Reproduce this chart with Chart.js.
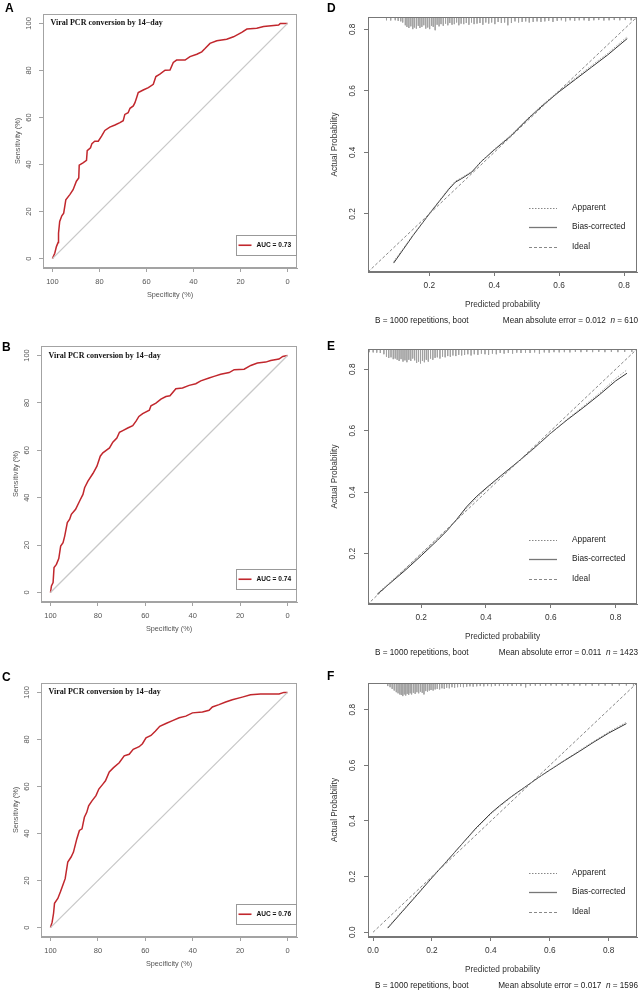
<!DOCTYPE html>
<html>
<head>
<meta charset="utf-8">
<script src="https://cdn.jsdelivr.net/npm/chart.js@4.4.1/dist/chart.umd.min.js"></script>
<style>
html, body { margin: 0; padding: 0; background: #fff; }
#fig { position: relative; width: 641px; height: 991px; overflow: hidden; background: #fff; }
#fig canvas { position: absolute; }
.lab { position: absolute; font: bold 12px "Liberation Sans", Arial, sans-serif; line-height: 12px; color: #000; }
</style>
</head>
<body>
<div id="fig">
  <canvas id="cA" width="320" height="330" style="left:0;top:0"></canvas>
  <canvas id="cB" width="320" height="330" style="left:0;top:330px"></canvas>
  <canvas id="cC" width="320" height="331" style="left:0;top:660px"></canvas>
  <canvas id="cD" width="321" height="330" style="left:320px;top:0"></canvas>
  <canvas id="cE" width="321" height="330" style="left:320px;top:330px"></canvas>
  <canvas id="cF" width="321" height="331" style="left:320px;top:660px"></canvas>
  <div class="lab" style="left:5px;top:2px">A</div>
  <div class="lab" style="left:2px;top:341px">B</div>
  <div class="lab" style="left:2px;top:671px">C</div>
  <div class="lab" style="left:327px;top:2px">D</div>
  <div class="lab" style="left:327px;top:340px">E</div>
  <div class="lab" style="left:327px;top:670px">F</div>
</div>
<script>
'use strict';

const SANS = '"Liberation Sans", Arial, sans-serif';
const SERIF = '"Liberation Serif", "Times New Roman", serif';

// ROC curves: specificity (%) vs sensitivity (%)
const rocTicks = [100, 80, 60, 40, 20, 0];
const rocTitle = 'Viral PCR conversion by 14\u2212day';

const rocASpec = [100,99,98.3,97.6,97.4,96.9,96,95.2,94.3,92.6,91.2,89.8,88.8,88.6,87,85.5,85.2,83.8,83.2,82,80.5,79.1,77.7,75.6,73.4,71.3,69.9,69.2,67.8,67,65.6,64.9,64.2,63.5,61.4,59.2,57.1,56,54.3,52.1,50,48.6,47.2,43.6,41.5,38.6,36.5,35.1,33,30.1,25.9,23,19.5,17.3,13.1,10.2,3.8,3.1,0];
const rocASens = [0,2.3,5.1,6.8,10.8,15.8,18.2,19.3,25,27.2,29.3,32.9,34.3,39.7,40.7,41.8,45.9,47.1,48.9,49.9,49.9,52.1,54.5,55.9,56.8,57.8,58.6,61.3,62,63.9,64.9,66.3,68.4,70.6,71.7,72.7,74.1,77.4,78.4,80.1,80.2,83.4,84.4,84.4,85.9,86.9,87.9,89.3,91.5,92.6,93.3,94.3,96.2,97.6,97.9,98.7,99.3,100,100];

const rocBSpec = [100,99.6,98.9,98.5,97.5,96.5,95.7,94.7,94,92.9,91.9,91.2,89.4,87.7,86.3,85.6,84.2,82.1,80.4,79,77.9,76.5,75.1,73.7,72,70.9,69.5,67.4,65.3,63.9,62.7,61.1,58.3,57.6,55.5,53.4,51.3,49.6,47.1,44.3,41.5,38.7,36.6,33.1,31,28.2,24.6,22.5,18.3,15.5,12.7,9.2,7.1,3.6,2,0];
const rocBSens = [0,2.8,4.2,10.5,11.9,14.3,19.6,21,23.8,29.5,30.9,33,35.1,38.6,41.4,44.2,47,50.2,53.3,57.5,58.9,60,61,63.4,65.2,67.6,68.3,69.4,70.4,72.3,74.3,75.5,76.9,78.8,79.9,81.6,82.7,83,86,86.3,87.4,88.1,89.3,90.5,91.2,92.1,92.8,94,94.2,95.8,96.8,97.2,97.9,98.5,99.6,100];

const rocCSpec = [100,99.3,98.7,98.3,96.9,95.8,94.8,93.8,92.7,91.3,90.3,88.9,87.8,86.7,85.7,84.7,83.9,82.5,80.8,79.6,77.9,76.8,75.2,73.4,71,68.9,66.8,65.1,62.6,61.2,59.7,57.6,55.8,53.9,51.3,48.5,45.7,42.9,40.1,35.9,33.1,31.7,28.9,26.1,23.3,19.1,15.6,11.4,3.6,1.5,0];
const rocCSens = [0,2.3,6.1,10.3,12.4,15.2,18,20.8,27.9,30,32.1,37.7,41.3,42,46.9,49,51.8,53.9,56.1,58.9,61,62.4,66.2,68,70.1,73,73.7,75.8,76.9,78.2,80.7,81.7,83.5,85.6,86.8,88,89.2,89.9,91.3,91.7,92.4,93.8,94.8,95.9,96.9,98,99,99.3,99.3,100,100];

const aucLabels = ['AUC = 0.73', 'AUC = 0.74', 'AUC = 0.76'];

// Calibration curves: predicted vs actual probability
const calTicksDE = [0.2, 0.4, 0.6, 0.8];
const calTicksF = [0.0, 0.2, 0.4, 0.6, 0.8];
const idealLine = [0, 1];

const calDPred = [0.09,0.12,0.15,0.18,0.20,0.23,0.26,0.28,0.30,0.33,0.36,0.40,0.45,0.50,0.55,0.60,0.65,0.70,0.75,0.81];
const calDBias = [0.04,0.085,0.13,0.172,0.20,0.24,0.28,0.303,0.315,0.335,0.37,0.408,0.452,0.505,0.553,0.597,0.637,0.677,0.717,0.77];
const calDApp  = [0.045,0.088,0.132,0.173,0.202,0.242,0.283,0.306,0.318,0.337,0.371,0.41,0.455,0.507,0.556,0.6,0.641,0.682,0.722,0.776];

const calEPred = [0.065,0.10,0.15,0.20,0.25,0.28,0.31,0.34,0.37,0.40,0.45,0.50,0.55,0.60,0.65,0.70,0.75,0.80,0.835];
const calEBias = [0.068,0.10,0.145,0.193,0.243,0.275,0.312,0.352,0.385,0.413,0.457,0.50,0.545,0.592,0.635,0.675,0.717,0.762,0.787];
const calEApp  = [0.07,0.103,0.15,0.198,0.247,0.277,0.31,0.347,0.38,0.41,0.455,0.498,0.543,0.592,0.637,0.679,0.722,0.77,0.798];

const calFPred = [0.05,0.10,0.15,0.20,0.25,0.30,0.35,0.40,0.43,0.47,0.52,0.56,0.60,0.65,0.70,0.75,0.80,0.86];
const calFBias = [0.015,0.075,0.135,0.196,0.255,0.315,0.375,0.428,0.455,0.488,0.525,0.555,0.583,0.617,0.65,0.684,0.716,0.75];
const calFApp  = [0.018,0.078,0.138,0.198,0.256,0.314,0.372,0.425,0.452,0.486,0.524,0.555,0.584,0.619,0.653,0.687,0.72,0.755];

// rug of predicted probabilities: [x, relative frequency]
const rugD = [[0.068,.1],[0.081,.12],[0.095,.1],[0.104,.15],[0.112,.2],[0.118,.3],[0.126,.55],[0.131,.7],[0.137,.8],[0.143,.65],[0.149,.9],[0.154,.75],[0.16,.85],[0.166,.6],[0.171,.8],[0.177,.7],[0.183,.55],[0.189,.85],[0.195,.75],[0.201,.9],[0.207,.6],[0.212,.7],[0.218,1],[0.224,.5],[0.23,.65],[0.236,.45],[0.243,.6],[0.25,.4],[0.257,.55],[0.263,.35],[0.27,.5],[0.277,.45],[0.284,.3],[0.291,.55],[0.298,.4],[0.306,.45],[0.314,.35],[0.322,.5],[0.33,.3],[0.338,.45],[0.347,.4],[0.356,.35],[0.365,.5],[0.374,.3],[0.383,.4],[0.392,.3],[0.402,.45],[0.412,.25],[0.422,.35],[0.432,.3],[0.442,.55],[0.453,.35],[0.464,.2],[0.475,.3],[0.486,.25],[0.497,.2],[0.508,.3],[0.52,.25],[0.532,.2],[0.544,.25],[0.556,.2],[0.568,.15],[0.581,.25],[0.594,.15],[0.607,.1],[0.62,.2],[0.634,.1],[0.648,.15],[0.662,.1],[0.677,.1],[0.692,.15],[0.707,.1],[0.722,.08],[0.738,.12],[0.754,.1],[0.77,.08],[0.787,.1],[0.804,.08],[0.822,.1],[0.838,.08]];
const rugE = [[0.04,.08],[0.052,.1],[0.063,.12],[0.074,.15],[0.085,.25],[0.093,.45],[0.1,.55],[0.107,.5],[0.114,.65],[0.12,.6],[0.126,.7],[0.132,.8],[0.138,.65],[0.144,.85],[0.15,.75],[0.156,.9],[0.162,.7],[0.168,.8],[0.174,.6],[0.18,.75],[0.186,.95],[0.192,.85],[0.198,1],[0.204,.8],[0.21,.9],[0.216,.7],[0.222,.85],[0.229,.6],[0.236,.7],[0.243,.55],[0.25,.5],[0.258,.6],[0.266,.45],[0.274,.5],[0.282,.4],[0.29,.45],[0.298,.35],[0.307,.4],[0.316,.3],[0.325,.35],[0.334,.3],[0.344,.25],[0.354,.35],[0.364,.25],[0.375,.3],[0.386,.2],[0.397,.25],[0.408,.3],[0.42,.2],[0.432,.25],[0.444,.15],[0.456,.2],[0.469,.15],[0.482,.2],[0.495,.12],[0.508,.15],[0.522,.12],[0.536,.15],[0.55,.1],[0.565,.2],[0.58,.1],[0.595,.12],[0.61,.08],[0.626,.1],[0.642,.08],[0.659,.1],[0.676,.06],[0.693,.08],[0.711,.06],[0.729,.08],[0.748,.06],[0.767,.08],[0.787,.06],[0.807,.08],[0.828,.06],[0.85,.06]];
const rugF = [[0.05,.1],[0.058,.2],[0.065,.35],[0.072,.5],[0.079,.65],[0.085,.75],[0.091,.85],[0.096,.9],[0.101,1],[0.106,.85],[0.111,.95],[0.116,.8],[0.121,.9],[0.126,.75],[0.131,.85],[0.137,.7],[0.143,.8],[0.149,.65],[0.155,.75],[0.161,.6],[0.167,.7],[0.173,.85],[0.179,.55],[0.185,.6],[0.191,.5],[0.197,.45],[0.204,.5],[0.211,.4],[0.218,.35],[0.226,.4],[0.234,.3],[0.242,.35],[0.25,.25],[0.259,.3],[0.268,.2],[0.277,.25],[0.287,.2],[0.297,.15],[0.307,.2],[0.318,.15],[0.329,.12],[0.34,.15],[0.352,.12],[0.364,.1],[0.376,.12],[0.389,.1],[0.402,.12],[0.415,.08],[0.429,.1],[0.443,.08],[0.457,.1],[0.472,.08],[0.487,.06],[0.502,.1],[0.518,.22],[0.534,.08],[0.551,.06],[0.568,.08],[0.586,.06],[0.604,.05],[0.622,.06],[0.642,.05],[0.662,.06],[0.682,.05],[0.702,.06],[0.722,.05],[0.744,.06],[0.766,.05],[0.788,.05],[0.812,.06],[0.836,.05],[0.86,.05],[0.884,.05]];

const calLegend = ['Apparent', 'Bias-corrected', 'Ideal'];
const calCaptionLeft = 'B = 1000 repetitions, boot';
const calMae = ['0.012', '0.011', '0.017'];
const calN = ['610', '1423', '1596'];

// ---- helpers ----
const pts = (xs, ys) => xs.map((x, i) => ({ x, y: ys[i] }));

// each rug spike: a short vertical segment hanging from the top of the y scale
function rugPoints(rug, top, base, len) {
  const out = [];
  rug.forEach(([x, h]) => {
    out.push({ x, y: top }, { x, y: top - base - h * len }, { x, y: null });
  });
  return out;
}

function drawRotated(ctx, text, x, y) {
  ctx.save();
  ctx.translate(x, y);
  ctx.rotate(-Math.PI / 2);
  ctx.fillText(text, 0, 0);
  ctx.restore();
}

const framePlugin = {
  id: 'frame',
  afterDraw(chart, args, o) {
    const { ctx, chartArea: a } = chart;
    const xs = chart.scales.x, ys = chart.scales.y;
    ctx.save();
    ctx.strokeStyle = o.boxColor;
    ctx.lineWidth = 1;
    ctx.strokeRect(Math.round(a.left) + 0.5, Math.round(a.top) + 0.5, Math.round(a.right - a.left) - 1, Math.round(a.bottom - a.top) - 1);
    ctx.fillStyle = o.textColor;
    ctx.font = o.tickFont;
    ctx.textAlign = 'center';
    ctx.textBaseline = 'middle';
    xs.ticks.forEach(t => ctx.fillText(o.fmt(t.value), xs.getPixelForValue(t.value), a.bottom + o.xTickGap));
    ys.ticks.forEach(t => drawRotated(ctx, o.fmt(t.value), a.left - o.yTickGap, ys.getPixelForValue(t.value)));
    ctx.font = o.titleFont;
    ctx.fillText(o.xTitle, (a.left + a.right) / 2, a.bottom + o.xTitleGap);
    drawRotated(ctx, o.yTitle, a.left - o.yTitleGap, (a.top + a.bottom) / 2);
    if (o.extra) o.extra(chart, ctx, a);
    ctx.restore();
  }
};

function rocExtra(auc) {
  return (chart, ctx, a) => {
    const ys = chart.scales.y;
    ctx.fillStyle = '#111';
    ctx.font = 'bold 8px ' + SERIF;
    ctx.textAlign = 'left';
    ctx.fillText(rocTitle, a.left + 7.5, ys.getPixelForValue(100));
    // legend box
    const bw = 59.5, bh = 19.5;
    const bx = a.right - 2 - bw, by = a.bottom - 13.5 - bh;
    ctx.fillStyle = '#fff';
    ctx.fillRect(bx, by, bw, bh);
    ctx.strokeStyle = '#999';
    ctx.strokeRect(Math.round(bx) + 0.5, Math.round(by) + 0.5, Math.round(bw), Math.round(bh));
    const cy = by + bh / 2 + 0.5;
    ctx.strokeStyle = '#c1272d';
    ctx.lineWidth = 1.6;
    ctx.beginPath();
    ctx.moveTo(bx + 3, cy);
    ctx.lineTo(bx + 16, cy);
    ctx.stroke();
    ctx.fillStyle = '#111';
    ctx.font = 'bold 6.6px ' + SANS;
    ctx.fillText(auc, bx + 21, cy);
  };
}

function calExtra(mae, n) {
  return (chart, ctx, a) => {
    const rows = [64.5, 45, 25];
    const styles = [
      { dash: [1.5, 1.5], color: '#888', w: 1 },
      { dash: [], color: '#777', w: 1.3 },
      { dash: [3, 2], color: '#888', w: 1 }
    ];
    ctx.font = '8.3px ' + SANS;
    ctx.textAlign = 'left';
    rows.forEach((off, i) => {
      const yy = a.bottom - off;
      const s = styles[i];
      ctx.save();
      ctx.setLineDash(s.dash);
      ctx.strokeStyle = s.color;
      ctx.lineWidth = s.w;
      ctx.beginPath();
      ctx.moveTo(a.right - 108, Math.round(yy) + 0.5);
      ctx.lineTo(a.right - 80, Math.round(yy) + 0.5);
      ctx.stroke();
      ctx.restore();
      ctx.fillStyle = '#222';
      ctx.fillText(calLegend[i], a.right - 65, yy);
    });
    // caption under the panel
    const cy = a.bottom + 48.5;
    ctx.font = '8.2px ' + SANS;
    ctx.fillStyle = '#222';
    ctx.fillText(calCaptionLeft, a.left + 7, cy);
    const p1 = 'Mean absolute error = ' + mae + '  ';
    const p3 = ' = ' + n;
    const w1 = ctx.measureText(p1).width;
    const w3 = ctx.measureText(p3).width;
    ctx.font = 'italic 8.2px ' + SANS;
    const w2 = ctx.measureText('n').width;
    const x0 = a.right + 1 - (w1 + w2 + w3);
    ctx.font = '8.2px ' + SANS;
    ctx.fillText(p1, x0, cy);
    ctx.font = 'italic 8.2px ' + SANS;
    ctx.fillText('n', x0 + w1, cy);
    ctx.font = '8.2px ' + SANS;
    ctx.fillText(p3, x0 + w1 + w2, cy);
  };
}

function axis(min, max, ticks, reverse, color, fitFn) {
  return {
    type: 'linear',
    min, max, reverse,
    afterBuildTicks: s => { s.ticks = ticks.map(v => ({ value: v })); },
    afterFit: fitFn,
    ticks: { display: false },
    grid: { drawOnChartArea: false, drawTicks: true, tickLength: 4, color, lineWidth: 1 },
    border: { display: true, color }
  };
}

function makePanel(id, spec) {
  const cv = document.getElementById(id);
  const W = cv.width, H = cv.height, a = spec.area;
  return new Chart(cv, {
    type: 'scatter',
    data: { datasets: spec.datasets },
    options: {
      responsive: false,
      animation: false,
      layout: { padding: { left: 0, top: a[1], right: W - a[2], bottom: 0 } },
      elements: { point: { radius: 0 }, line: { tension: 0 } },
      plugins: { legend: { display: false }, tooltip: { enabled: false }, frame: spec.frame },
      scales: {
        x: axis(spec.x[0], spec.x[1], spec.xTicks, spec.reverse, spec.frame.boxColor, s => { s.height = H - a[3]; }),
        y: axis(spec.y[0], spec.y[1], spec.yTicks, false, spec.frame.boxColor, s => { s.width = a[0]; })
      }
    },
    plugins: [framePlugin]
  });
}

function rocPanel(id, area, spec, sens, auc) {
  makePanel(id, {
    area,
    x: [-4, 104], y: [-4, 104], reverse: true,
    xTicks: rocTicks, yTicks: rocTicks.slice().reverse(),
    datasets: [
      { data: pts([100, 0], [0, 100]), showLine: true, borderColor: '#c8c8c8', borderWidth: 1.3 },
      { data: pts(spec, sens), showLine: true, borderColor: '#c1272d', borderWidth: 1.5 }
    ],
    frame: {
      boxColor: '#a3a3a3', textColor: '#555',
      tickFont: '7.5px ' + SANS, titleFont: '7.3px ' + SANS,
      fmt: v => String(v),
      xTickGap: 14, yTickGap: 14, xTitleGap: 27, yTitleGap: 25,
      xTitle: 'Specificity (%)', yTitle: 'Sensitivity (%)',
      extra: rocExtra(auc)
    }
  });
}

function calPanel(id, area, lim, ticks, pred, bias, app, rug, rugLen, mae, n) {
  makePanel(id, {
    area,
    x: lim, y: lim, reverse: false,
    xTicks: ticks, yTicks: ticks,
    datasets: [
      { data: pts(idealLine, idealLine), showLine: true, borderColor: '#7a7a7a', borderWidth: 0.9, borderDash: [3, 2] },
      { data: pts(pred, app), showLine: true, borderColor: '#999', borderWidth: 0.9, borderDash: [1.5, 1.5] },
      { data: pts(pred, bias), showLine: true, borderColor: '#333', borderWidth: 1 },
      { data: rugPoints(rug, lim[1], 0.007, rugLen), showLine: true, spanGaps: false, borderColor: '#a0a0a0', borderWidth: 0.9 }
    ],
    frame: {
      boxColor: '#777', textColor: '#333',
      tickFont: '8.3px ' + SANS, titleFont: '8.3px ' + SANS,
      fmt: v => v.toFixed(1),
      xTickGap: 14, yTickGap: 15, xTitleGap: 33, yTitleGap: 33.5,
      xTitle: 'Predicted probability', yTitle: 'Actual Probability',
      extra: calExtra(mae, n)
    }
  });
}

rocPanel('cA', [43, 14, 297, 268], rocASpec, rocASens, aucLabels[0]);
rocPanel('cB', [41, 16, 297, 272], rocBSpec, rocBSens, aucLabels[1]);
rocPanel('cC', [41, 23, 297, 277], rocCSpec, rocCSens, aucLabels[2]);

calPanel('cD', [48, 17, 317, 272], [0.011, 0.840], calTicksDE, calDPred, calDBias, calDApp, rugD, 0.036, calMae[0], calN[0]);
calPanel('cE', [48, 19, 317, 274], [0.036, 0.866], calTicksDE, calEPred, calEBias, calEApp, rugE, 0.04, calMae[1], calN[1]);
calPanel('cF', [48, 23, 317, 277], [-0.017, 0.896], calTicksF, calFPred, calFBias, calFApp, rugF, 0.04, calMae[2], calN[2]);
</script>
</body>
</html>
